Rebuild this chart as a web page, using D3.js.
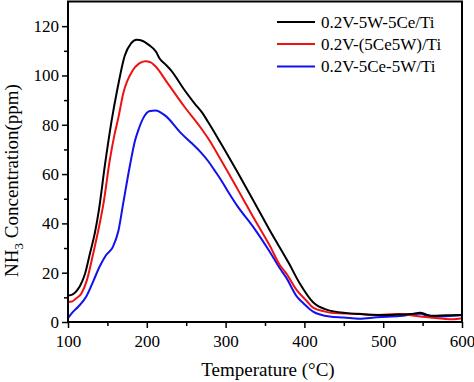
<!DOCTYPE html>
<html>
<head>
<meta charset="utf-8">
<script src="https://cdn.jsdelivr.net/npm/d3@7"></script>
<style>
html,body{margin:0;padding:0;background:#fff;}
svg{display:block;}
svg text{font-family:"Liberation Serif","Times New Roman",serif;}
</style>
</head>
<body>
<svg id="chart" width="474" height="382"></svg>
<script>
// ---- data ----
const seriesNames = ["0.2V-5W-5Ce/Ti", "0.2V-(5Ce5W)/Ti", "0.2V-5Ce-5W/Ti"];
const seriesColors = ["#000000", "#ee1111", "#1111ee"];

const blackT = [100,106,112,118,122,128,134,139,147,155,163,172,180,187,195,202,212,216,223,231,248,261,270,278,293,315,335,356,380,394,411,428,454,470,500,520,535,547,555,563,580,600];
const blackV = [10.7,11.2,13,16.5,20,28,36,45,64,81,95,108,113,114.5,114,112.5,109.5,107,104.7,102,94,88.5,85,81,73,60.8,49.4,37.2,24,15.7,8,5,3.6,3.2,2.8,3,3.2,3.8,3,2.5,2.7,2.8];

const redT = [100,105,110,117,124,132,139,145,153,159,164,170,182,190,198,205,210,227,248,268,278,293,315,335,356,369,377,390,403,411,425,437,470,487,521,540,560,589,600];
const redV = [8.2,8.3,9.5,11.6,17,27.8,38,48,65.6,76,83,92.6,102,104.8,105.8,105.3,104,96.6,87.2,79,74.4,66.3,54,42.6,31,23,19.7,13,8.5,5.8,4.3,3.6,3.3,2.8,3.2,2.5,1.8,1.1,1.5];

const blueT = [100,106,113,123,132,140,148,157,164,170,179,185,190,196,203,211,223,244,256,268,278,286,293,301,315,335,356,369,377,390,399,411,432,450,470,492,521,547,560,580,600];
const blueV = [1.6,4,6.2,10.2,16.5,22.4,27,30.5,37,48,64.2,73.5,78.5,83,85.5,85.8,83.8,76.4,72.8,69,65.2,61.5,58.2,54,47,38.6,28.5,21.7,18,10.5,7.5,4.2,2.2,1.8,1.3,1.9,2.4,3.3,2.2,2.3,2.8];

const xTicks = [100,200,300,400,500,600];
const yTicks = [0,20,40,60,80,100,120];
const xLabel = "Temperature (°C)";

// ---- layout ----
const svg = d3.select("#chart");
const L = 68, R = 462, T = 1.5, B = 322;
const x = d3.scaleLinear().domain([100,600]).range([L,R]);
const y = d3.scaleLinear().domain([0,130]).range([B,T]);

const series = [
  {name: seriesNames[0], color: seriesColors[0], pts: d3.zip(blackT, blackV)},
  {name: seriesNames[1], color: seriesColors[1], pts: d3.zip(redT, redV)},
  {name: seriesNames[2], color: seriesColors[2], pts: d3.zip(blueT, blueV)}
];

const line = d3.line().x(d => x(d[0])).y(d => y(d[1])).curve(d3.curveMonotoneX);

svg.append("g").selectAll("path").data(series.slice().reverse()).join("path")
  .attr("d", d => line(d.pts))
  .attr("fill", "none")
  .attr("stroke", d => d.color)
  .attr("stroke-width", 2)
  .attr("stroke-linejoin", "round");

// frame
svg.append("rect").attr("x", L).attr("y", T).attr("width", R - L).attr("height", B - T)
  .attr("fill", "none").attr("stroke", "#000").attr("stroke-width", 2);

// axes
const fontSize = 17;
const yAxis = svg.append("g").attr("transform", `translate(${L},0)`)
  .call(d3.axisLeft(y).tickValues(yTicks).tickSize(6).tickPadding(3).tickFormat(d3.format("d")));
const yMinor = svg.append("g").attr("transform", `translate(${L},0)`)
  .call(d3.axisLeft(y).tickValues(d3.range(10,130,20)).tickSize(4).tickFormat(""));
const xAxis = svg.append("g").attr("transform", `translate(0,${B})`)
  .call(d3.axisBottom(x).tickValues(xTicks).tickSize(6).tickPadding(4).tickFormat(d3.format("d")));
const xMinor = svg.append("g").attr("transform", `translate(0,${B})`)
  .call(d3.axisBottom(x).tickValues(d3.range(150,600,100)).tickSize(4).tickFormat(""));

[yAxis, yMinor, xAxis, xMinor].forEach(g => {
  g.attr("font-family", null);
  g.select(".domain").remove();
  g.selectAll("line").attr("stroke", "#000").attr("stroke-width", 1.5);
  g.selectAll("text").attr("font-size", fontSize).attr("fill", "#000");
});
xAxis.selectAll("text").attr("dy", "0.9em");

// axis titles
svg.append("text").attr("x", 268).attr("y", 376).attr("text-anchor", "middle")
  .attr("font-size", 19).attr("fill", "#000").text(xLabel);

const yt = svg.append("text").attr("transform", "translate(18,180.5) rotate(-90)")
  .attr("text-anchor", "middle").attr("font-size", 19).attr("fill", "#000");
yt.append("tspan").text("NH");
yt.append("tspan").attr("dy", 5).attr("font-size", 13).text("3");
yt.append("tspan").attr("dy", -5).text(" Concentration(ppm)");

// legend
const leg = svg.append("g");
const legY = [22, 44, 66.5];
series.forEach((s, i) => {
  leg.append("line").attr("x1", 277).attr("x2", 315).attr("y1", legY[i]).attr("y2", legY[i])
    .attr("stroke", s.color).attr("stroke-width", 2);
  leg.append("text").attr("x", 321).attr("y", legY[i]).attr("dy", "0.33em")
    .attr("font-size", 17).attr("fill", "#000").text(s.name);
});
</script>
</body>
</html>
